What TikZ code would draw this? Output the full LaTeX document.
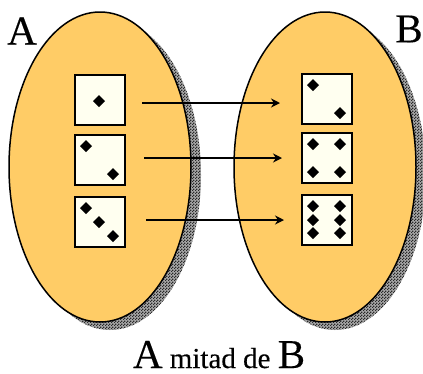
\documentclass[tikz,border=0pt]{standalone}
\usepackage{fontspec}
\setmainfont[FakeBold=0.25]{Liberation Serif}
\usetikzlibrary{arrows.meta,patterns,shapes.geometric}
\pgfdeclarepatternformonly{dither}{\pgfqpoint{0pt}{0pt}}{\pgfqpoint{3pt}{3pt}}{\pgfqpoint{3pt}{3pt}}{%
  \pgfpathrectangle{\pgfqpoint{0pt}{0pt}}{\pgfqpoint{1.5pt}{1.5pt}}%
  \pgfpathrectangle{\pgfqpoint{1.5pt}{1.5pt}}{\pgfqpoint{1.5pt}{1.5pt}}%
  \pgfusepath{fill}}
\definecolor{setfill}{HTML}{FFCC66}
\definecolor{diefill}{HTML}{FFFFF0}
\definecolor{shade}{HTML}{2A2A2A}
\definecolor{shadebase}{HTML}{A8A8A8}
\tikzset{
  x=1pt,y=-1pt,
  setshape/.style={draw=black,line width=1.5pt,fill=setfill,ellipse,inner sep=0pt,minimum width=182pt,minimum height=310pt},
  shadowshape/.style={ellipse,inner sep=0pt,minimum width=182pt,minimum height=310pt,preaction={fill=shadebase},pattern=dither,pattern color=shade},
  die/.style={draw=black,line width=2pt,fill=diefill,inner sep=0pt,minimum width=50pt,minimum height=50pt},
  setlabel/.style={font=\fontsize{41}{41}\selectfont,inner sep=0pt},
  mapto/.style={draw=black,line width=1.3pt,-{Stealth[length=9pt,width=9pt]}}
}
\newcommand{\pip}[2]{\fill[black] (#1-6,#2) -- (#1,#2-6) -- (#1+6,#2) -- (#1,#2+6) -- cycle;}
\begin{document}
\begin{tikzpicture}
\useasboundingbox (0,0) rectangle (423,373);
\node[shadowshape] (shadowA) at (110,175) {};
\node[shadowshape] (shadowB) at (335,175) {};
\node[setshape] (setA) at (100,167) {};
\node[setshape] (setB) at (325,167) {};
\node[die] (a1) at (99.5,99.5) {};
\node[die] (a2) at (99.5,160) {};
\node[die] (a3) at (99.5,222) {};
\node[die] (b1) at (327,98.5) {};
\node[die] (b2) at (327,157.5) {};
\node[die] (b3) at (327,220) {};
\pip{99}{101}
\pip{86}{146}\pip{113}{174}
\pip{86}{208}\pip{99}{222}\pip{113}{236}
\pip{313}{85}\pip{340}{113}
\pip{313}{144}\pip{340}{144}\pip{313}{172}\pip{340}{172}
\pip{313}{206}\pip{340}{206}\pip{313}{220}\pip{340}{220}\pip{313}{233}\pip{340}{233}
\coordinate (s1) at (142,103);
\coordinate (e1) at (280,103);
\coordinate (s2) at (144,158);
\coordinate (e2) at (282,158);
\coordinate (s3) at (146,220);
\coordinate (e3) at (284,220);
\draw[mapto] (s1) -- (e1);
\draw[mapto] (s2) -- (e2);
\draw[mapto] (s3) -- (e3);
\node[setlabel] (labelA) at (22,31) {A};
\node[setlabel] (labelB) at (409,29) {B};
\node[inner sep=0pt,anchor=base] (caption) at (219,368) {\fontsize{41}{41}\selectfont A\fontsize{29}{29}\selectfont\ mitad de\ \fontsize{41}{41}\selectfont B};
\end{tikzpicture}
\end{document}
